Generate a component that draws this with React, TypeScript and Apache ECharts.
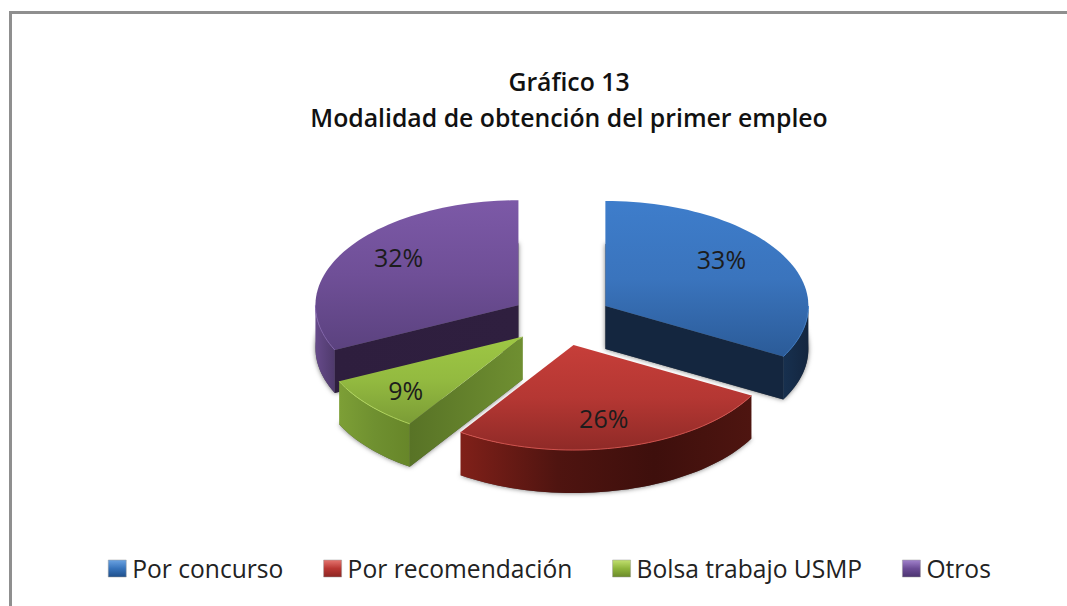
import React, { useEffect, useRef } from "react";
import * as echarts from "echarts";

const categories = ["Por concurso", "Por recomendación", "Bolsa trabajo USMP", "Otros"];
const shares = [33, 26.4, 8.6, 32];
const titleLines = ["Gráfico 13", "Modalidad de obtención del primer empleo"];

const topColors = [
  ["#3e7dcb", "#3a74bd", "#2b5b98"],
  ["#c63e39", "#b53733", "#8f2a27"],
  ["#9ec744", "#93ba40", "#7b9c36"],
  ["#7c59a7", "#6f4f97", "#5b427f"],
];
const wallColors = [
  ["#17304f", "#14263f"],
  ["#802019", "#4f1410", "#3e0f0c", "#4e1510"],
  ["#7d9f36", "#6f9030", "#678629"],
  ["#664a8a", "#4f3a6c"],
];
const faceColors = [
  ["#14263f", "#14263f"],
  ["#4f1410", "#4f1410"],
  ["#587326", "#6f8f31"],
  ["#2e1e3e", "#2f1f3f"],
];
const rimColors = ["#3f7cc4", "#d0524d", "#b0d45c", "#8265ab"];
const legendColors = [
  ["#6ba3e2", "#3773bb", "#1f4f8a"],
  ["#e57570", "#b93733", "#8c2623"],
  ["#c2e070", "#8fb53c", "#6b8a2a"],
  ["#a283cc", "#6c4c96", "#4b3470"],
];

// Layout of the projected pie, in pixels
const CX = 561.5;
const CY = 319.4;
const RX = 203;
const RY = 105;
const DEPTH = 43;
const EXPLODE = 51;
const LABEL_RADIUS = 0.67;
const labelNudges = [[-1, -11], [-2, 5], [-14, 8], [-5, -11]];

const rad = (d: number) => (d * Math.PI) / 180;
const total = shares.reduce((a, b) => a + b, 0);
const angles = shares.map((_, i) => {
  const before = shares.slice(0, i).reduce((a, b) => a + b, 0);
  return [(before / total) * 360, ((before + shares[i]) / total) * 360];
});

function gradient(colors: string[], horizontal: boolean) {
  const stops = colors.map((color, i) => ({ offset: i / (colors.length - 1), color }));
  return new echarts.graphic.LinearGradient(0, 0, horizontal ? 1 : 0, horizontal ? 0 : 1, stops);
}

function rimPoints(cx: number, cy: number, a: number, b: number) {
  const n = Math.max(2, Math.ceil((b - a) / 2));
  const pts: number[][] = [];
  for (let i = 0; i <= n; i++) {
    const t = rad(a + ((b - a) * i) / n);
    pts.push([cx + RX * Math.sin(t), cy - RY * Math.cos(t)]);
  }
  return pts;
}

function makeRenderItem(i: number) {
  return (_params: any, api: any) => {
    const value = api.value(0);
    const [a, b] = angles[i];
    const mid = rad((a + b) / 2);
    const cx = CX + EXPLODE * Math.sin(mid);
    const cy = CY - EXPLODE * (RY / RX) * Math.cos(mid);
    const rim = rimPoints(cx, cy, a, b);
    const sector = [[cx, cy], ...rim];
    const children: any[] = [];

    children.push({
      type: "polygon",
      shape: { points: sector.map(([x, y]) => [x, y + DEPTH]) },
      style: { fill: "#555", shadowBlur: 5, shadowColor: "rgba(0,0,0,0.55)" },
    });

    const faces: [number, number][] = [
      [a, a - 90],
      [b, b + 90],
    ];
    faces.forEach(([edge, normal]) => {
      if (Math.cos(rad(normal)) < -1e-6) {
        const t = rad(edge);
        const x = cx + RX * Math.sin(t);
        const y = cy - RY * Math.cos(t);
        children.push({
          type: "polygon",
          shape: { points: [[cx, cy], [x, y], [x, y + DEPTH], [cx, cy + DEPTH]] },
          style: { fill: gradient(faceColors[i], true) },
        });
      }
    });

    const wa = Math.max(a, 90);
    const wb = Math.min(b, 270);
    if (wb > wa) {
      const top = rimPoints(cx, cy, wa, wb);
      const bottom = top.map(([x, y]) => [x, y + DEPTH]).reverse();
      children.push({
        type: "polygon",
        shape: { points: [...top, ...bottom] },
        style: { fill: gradient(wallColors[i], true) },
      });
    }

    children.push({
      type: "polygon",
      shape: { points: sector },
      style: { fill: gradient(topColors[i], false) },
    });
    if (wb > wa) {
      children.push({
        type: "polyline",
        shape: { points: rimPoints(cx, cy, wa, wb) },
        style: { fill: "none", stroke: rimColors[i], lineWidth: 1 },
      });
    }

    const [nx, ny] = labelNudges[i];
    children.push({
      type: "text",
      style: {
        text: `${Math.round(value)}%`,
        x: cx + LABEL_RADIUS * RX * Math.sin(mid) + nx,
        y: cy - LABEL_RADIUS * RY * Math.cos(mid) + ny,
        align: "center",
        verticalAlign: "middle",
        fill: "#1c1c1c",
        font: '25px "Open Sans", sans-serif',
      },
    });
    return { type: "group", children };
  };
}

const drawOrder = categories
  .map((_, i) => i)
  .sort((p, q) => {
    const m = (k: number) => Math.cos(rad((angles[k][0] + angles[k][1]) / 2));
    return m(q) - m(p);
  });

export default function App() {
  const ref = useRef<HTMLDivElement>(null);
  useEffect(() => {
    document.body.style.margin = "0";
    const chart = echarts.init(ref.current!, undefined, { renderer: "svg" });
    chart.setOption({
      animation: false,
      backgroundColor: "#ffffff",
      title: {
        text: titleLines.join("\n"),
        left: 564,
        top: 58,
        textAlign: "center",
        textStyle: {
          fontFamily: '"Open Sans", sans-serif',
          fontWeight: 600,
          fontSize: 24.8,
          lineHeight: 36,
          color: "#111111",
        },
      },
      legend: {
        data: categories.map((name, i) => ({
          name,
          icon: "rect",
          itemStyle: { color: gradient(legendColors[i], false), borderColor: "#9a9a9a", borderWidth: 0.5 },
        })),
        left: 108,
        top: 556,
        itemWidth: 18,
        itemHeight: 17,
        itemGap: 40,
        selectedMode: false,
        padding: 0,
        textStyle: {
          fontFamily: '"Open Sans", sans-serif',
          fontSize: 24.6,
          color: "#222222",
          padding: [0, 0, 0, 1],
        },
      },
      graphic: [
        { type: "rect", shape: { x: 9, y: 11, width: 1058, height: 3 }, style: { fill: "#8f8f8f" }, silent: true },
        { type: "rect", shape: { x: 9, y: 11, width: 3, height: 595 }, style: { fill: "#8f8f8f" }, silent: true },
      ],
      series: drawOrder.map((i) => ({
        type: "custom",
        name: categories[i],
        coordinateSystem: "none",
        silent: true,
        itemStyle: { color: gradient(legendColors[i], false) },
        renderItem: makeRenderItem(i),
        data: [[shares[i]]],
      })),
    });
    return () => chart.dispose();
  }, []);
  return <div ref={ref} style={{ width: 1067, height: 606 }} />;
}
